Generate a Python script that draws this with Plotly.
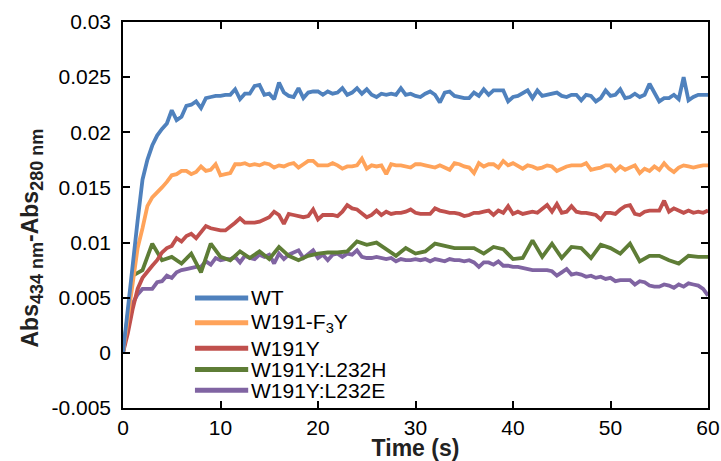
import plotly.graph_objects as go

# ---------------- data ----------------
time_fine = [i * 0.5 for i in range(121)]   # 0 .. 60 s, 0.5 s steps
time_coarse = [float(i) for i in range(61)]  # 0 .. 60 s, 1 s steps

wt = [0, 0.0040, 0.0085, 0.0120, 0.0157, 0.0175, 0.0188, 0.0197, 0.0203, 0.0208,
      0.0220, 0.0211, 0.0214, 0.0224, 0.0225, 0.0228, 0.0222, 0.0231, 0.0232, 0.0233,
      0.0233, 0.0234, 0.0234, 0.0239, 0.0230, 0.0235, 0.0235, 0.0242, 0.0243, 0.0234,
      0.0235, 0.0230, 0.0245, 0.0236, 0.0233, 0.0232, 0.0240, 0.0231, 0.0236, 0.0237,
      0.0237, 0.0234, 0.0237, 0.0235, 0.0236, 0.0240, 0.0234, 0.0236, 0.0240, 0.0235,
      0.0239, 0.0234, 0.0232, 0.0235, 0.0234, 0.0235, 0.0234, 0.0240, 0.0234, 0.0235,
      0.0233, 0.0232, 0.0235, 0.0237, 0.0234, 0.0227, 0.0236, 0.0237, 0.0233, 0.0232,
      0.0231, 0.0231, 0.0236, 0.0233, 0.0239, 0.0234, 0.0238, 0.0238, 0.0238, 0.0228,
      0.0232, 0.0233, 0.0236, 0.0238, 0.0231, 0.0238, 0.0233, 0.0234, 0.0235, 0.0236,
      0.0233, 0.0232, 0.0234, 0.0234, 0.0229, 0.0234, 0.0233, 0.0228, 0.0231, 0.0238,
      0.0233, 0.0234, 0.0239, 0.0231, 0.0232, 0.0235, 0.0232, 0.0234, 0.0244, 0.0236,
      0.0228, 0.0231, 0.0231, 0.0234, 0.0230, 0.0250, 0.0229, 0.0232, 0.0234, 0.0234,
      0.0234]

f3y = [0, 0.0032, 0.0068, 0.0095, 0.0113, 0.0133, 0.0141, 0.0145, 0.0150, 0.0155,
       0.0161, 0.0162, 0.0165, 0.0165, 0.0162, 0.0164, 0.0169, 0.0165, 0.0166, 0.0171,
       0.0161, 0.0162, 0.0163, 0.0171, 0.0171, 0.0172, 0.0170, 0.0171, 0.0170, 0.0172,
       0.0171, 0.0168, 0.0170, 0.0169, 0.0171, 0.0172, 0.0168, 0.0171, 0.0174, 0.0174,
       0.0170, 0.0170, 0.0170, 0.0172, 0.0170, 0.0167, 0.0169, 0.0169, 0.0170, 0.0176,
       0.0167, 0.0170, 0.0169, 0.0170, 0.0162, 0.0171, 0.0170, 0.0170, 0.0169, 0.0168,
       0.0171, 0.0171, 0.0170, 0.0169, 0.0168, 0.0170, 0.0168, 0.0166, 0.0172, 0.0171,
       0.0169, 0.0168, 0.0163, 0.0172, 0.0169, 0.0171, 0.0171, 0.0168, 0.0174, 0.0170,
       0.0172, 0.0169, 0.0167, 0.0170, 0.0169, 0.0167, 0.0168, 0.0170, 0.0169, 0.0165,
       0.0167, 0.0169, 0.0170, 0.0170, 0.0170, 0.0172, 0.0166, 0.0167, 0.0168, 0.0170,
       0.0170, 0.0165, 0.0169, 0.0166, 0.0168, 0.0170, 0.0163, 0.0167, 0.0165, 0.0169,
       0.0166, 0.0172, 0.0167, 0.0164, 0.0168, 0.0170, 0.0169, 0.0168, 0.0169, 0.0170,
       0.0170]

w191y = [0, 0.0018, 0.0040, 0.0058, 0.0068, 0.0074, 0.0079, 0.0084, 0.0091, 0.0095,
         0.0097, 0.0104, 0.0101, 0.0106, 0.0108, 0.0104, 0.0110, 0.0115, 0.0113, 0.0112,
         0.0111, 0.0111, 0.0114, 0.0118, 0.0122, 0.0118, 0.0118, 0.0118, 0.0119, 0.0121,
         0.0123, 0.0128, 0.0125, 0.0117, 0.0126, 0.0125, 0.0124, 0.0123, 0.0124, 0.0130,
         0.0121, 0.0125, 0.0125, 0.0125, 0.0124, 0.0128, 0.0134, 0.0131, 0.0130, 0.0127,
         0.0123, 0.0125, 0.0129, 0.0125, 0.0128, 0.0126, 0.0127, 0.0127, 0.0128, 0.0130,
         0.0127, 0.0126, 0.0126, 0.0126, 0.0131, 0.0129, 0.0128, 0.0127, 0.0127, 0.0126,
         0.0124, 0.0125, 0.0127, 0.0127, 0.0128, 0.0129, 0.0125, 0.0129, 0.0127, 0.0133,
         0.0126, 0.0128, 0.0126, 0.0127, 0.0128, 0.0127, 0.0130, 0.0134, 0.0128, 0.0135,
         0.0127, 0.0128, 0.0133, 0.0128, 0.0127, 0.0127, 0.0126, 0.0125, 0.0121, 0.0127,
         0.0127, 0.0126, 0.0130, 0.0133, 0.0134, 0.0126, 0.0125, 0.0128, 0.0129, 0.0129,
         0.0129, 0.0138, 0.0128, 0.0131, 0.0129, 0.0127, 0.0129, 0.0127, 0.0128, 0.0127,
         0.0129]

l232h = [0, 0.0070, 0.0075, 0.0099, 0.0084, 0.0087, 0.0081, 0.0090, 0.0073, 0.0099,
         0.0087, 0.0084, 0.0092, 0.0086, 0.0092, 0.0085, 0.0096, 0.0088, 0.0084, 0.0088,
         0.0090, 0.0091, 0.0091, 0.0092, 0.0101, 0.0098, 0.0100, 0.0094, 0.0088, 0.0095,
         0.0090, 0.0092, 0.0099, 0.0097, 0.0095, 0.0095, 0.0095, 0.0090, 0.0096, 0.0094,
         0.0085, 0.0086, 0.0102, 0.0087, 0.0099, 0.0086, 0.0096, 0.0095, 0.0086, 0.0098,
         0.0095, 0.0090, 0.0099, 0.0083, 0.0088, 0.0088, 0.0084, 0.0081, 0.0088, 0.0087,
         0.0087]

l232e = [0, 0.0025, 0.0045, 0.0053, 0.0058, 0.0058, 0.0058, 0.0064, 0.0065, 0.0070,
         0.0068, 0.0073, 0.0075, 0.0076, 0.0077, 0.0078, 0.0078, 0.0083, 0.0080, 0.0086,
         0.0084, 0.0085, 0.0085, 0.0087, 0.0082, 0.0088, 0.0086, 0.0085, 0.0089, 0.0087,
         0.0089, 0.0081, 0.0090, 0.0085, 0.0089, 0.0091, 0.0093, 0.0086, 0.0089, 0.0093,
         0.0086, 0.0089, 0.0084, 0.0089, 0.0090, 0.0087, 0.0090, 0.0089, 0.0093, 0.0087,
         0.0086, 0.0086, 0.0087, 0.0086, 0.0085, 0.0086, 0.0083, 0.0085, 0.0084, 0.0084,
         0.0085, 0.0084, 0.0085, 0.0083, 0.0085, 0.0084, 0.0083, 0.0085, 0.0084, 0.0084,
         0.0083, 0.0084, 0.0082, 0.0078, 0.0082, 0.0082, 0.0080, 0.0083, 0.0079, 0.0079,
         0.0078, 0.0078, 0.0077, 0.0076, 0.0075, 0.0075, 0.0075, 0.0075, 0.0074, 0.0070,
         0.0073, 0.0076, 0.0071, 0.0072, 0.0071, 0.0069, 0.0070, 0.0068, 0.0069, 0.0067,
         0.0068, 0.0065, 0.0066, 0.0066, 0.0066, 0.0062, 0.0065, 0.0064, 0.0061, 0.0060,
         0.0060, 0.0062, 0.0061, 0.0059, 0.0062, 0.0060, 0.0063, 0.0062, 0.0061, 0.0058,
         0.0052]

series_names = ["WT", "W191-F<sub>3</sub>Y", "W191Y", "W191Y:L232H", "W191Y:L232E"]
series_values = [wt, f3y, w191y, l232h, l232e]
series_times = [time_fine, time_fine, time_fine, time_coarse, time_fine]
colors = ["#4F81BD", "#FFA35A", "#C0504D", "#5E7D36", "#8064A2"]

y_tickvals = [-0.005, 0, 0.005, 0.01, 0.015, 0.02, 0.025, 0.03]
y_ticktext = ["-0.005", "0", "0.005", "0.01", "0.015", "0.02", "0.025", "0.03"]
x_tickvals = [0, 10, 20, 30, 40, 50, 60]

x_title = "Time (s)"
y_title = ('Abs<sub><span style="font-size:18px">434 nm</span></sub>'
           '-Abs<sub><span style="font-size:18px">280 nm</span></sub>')

# ---------------- figure ----------------
FONT = "Liberation Sans, Arial, sans-serif"
fig = go.Figure()

# draw in reverse so WT is on top
for name, t, v, c in reversed(list(zip(series_names, series_times, series_values, colors))):
    fig.add_trace(go.Scatter(x=t, y=v, mode="lines", name=name,
                             line=dict(color=c, width=3.8), showlegend=False))

# custom legend (long line samples like the original)
legend_y = [0.285, 0.221, 0.155, 0.100, 0.046]
for name, c, ly in zip(series_names, colors, legend_y):
    fig.add_shape(type="line", xref="paper", yref="paper",
                  x0=0.123, x1=0.214, y0=ly, y1=ly,
                  line=dict(color=c, width=5))
    fig.add_annotation(xref="paper", yref="paper", x=0.216, y=ly,
                       text=name, showarrow=False, xanchor="left", yanchor="middle",
                       font=dict(family=FONT, size=21, color="black"))

# y-axis title as a rotated annotation (sits slightly below the axis centre, as in the original)
fig.add_annotation(xref="paper", yref="paper", x=-0.155, y=0.44,
                   text=y_title, textangle=-90, showarrow=False,
                   xanchor="center", yanchor="middle",
                   font=dict(family=FONT, size=23, color="#222222", weight="bold"))

axis_common = dict(showline=True, linecolor="black", linewidth=1.5,
                   mirror="ticks", ticks="inside", ticklen=7, tickwidth=1.5,
                   tickcolor="black", showgrid=False, zeroline=False,
                   tickfont=dict(family=FONT, size=21, color="black"))

fig.update_xaxes(range=[0, 60], tickvals=x_tickvals, **axis_common,
                 title=dict(text=x_title, standoff=8,
                            font=dict(family=FONT, size=23, color="#222222", weight="bold")))
fig.update_yaxes(range=[-0.005, 0.03], tickvals=y_tickvals, ticktext=y_ticktext,
                 ticklabelstandoff=6, **axis_common)

fig.update_layout(width=721, height=461,
                  margin=dict(l=123, r=13, t=22, b=53, autoexpand=False),
                  plot_bgcolor="white", paper_bgcolor="white",
                  showlegend=False)

fig.write_html("out.html", config={"displayModeBar": False},
               post_script="document.body.style.margin='0';document.body.style.overflow='hidden';")
